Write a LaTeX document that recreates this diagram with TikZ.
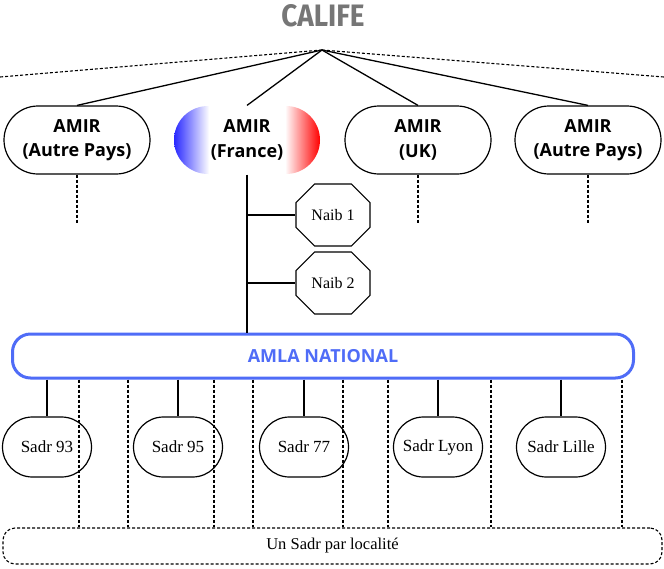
\documentclass[tikz,border=0pt]{standalone}
\usepackage{fontspec}
\setmainfont{Liberation Serif}
\newfontfamily\opensans{Open Sans}
\newfontfamily\califefont[FakeStretch=0.9]{Fira Sans}
\usetikzlibrary{shapes.misc,shapes.geometric}
\definecolor{amlablue}{RGB}{79,108,247}
\definecolor{califegray}{RGB}{118,118,118}
\definecolor{frblue}{RGB}{40,40,255}
\definecolor{frred}{RGB}{255,0,0}
\pgfdeclarehorizontalshading{france}{100bp}{color(0bp)=(frblue); color(25bp)=(frblue);
  color(37bp)=(white); color(63bp)=(white); color(75bp)=(frred); color(100bp)=(frred)}
\tikzstyle{edge} = [draw,line width=1.3pt,-]
\tikzstyle{dline} = [draw,line width=1.1pt,dash pattern=on 3pt off 2pt]

\begin{document}
\begin{tikzpicture}[x=1pt,y=-1pt,
  amir/.style={draw,line width=1.2pt,rounded rectangle,minimum width=146pt,
    minimum height=68pt,inner sep=0pt,align=center,
    font=\opensans\bfseries\fontsize{18}{24.5}\selectfont},
  naib/.style={draw,line width=1.2pt,chamfered rectangle,chamfered rectangle xsep=13pt,
    chamfered rectangle ysep=13pt,minimum width=74pt,minimum height=62pt,inner sep=0pt,
    font=\fontsize{16}{18}\selectfont},
  sadr/.style={draw,line width=1.2pt,rounded rectangle,minimum width=89pt,
    minimum height=60pt,inner sep=0pt,font=\fontsize{17}{18}\selectfont}]
  \useasboundingbox (0,0) rectangle (664,568);

  % top
  \node[font=\califefont\bfseries\fontsize{31}{32}\selectfont,text=califegray] (c) at (323,16) {CALIFE};
  \coordinate (top) at (322,50);
  \coordinate (dl) at (0,77);
  \coordinate (dr) at (664,77);

  \node[amir] (a1) at (77,140) {AMIR\\(Autre Pays)};
  \node[amir,draw=none,shading=france] (a2) at (247,140) {AMIR\\(France)};
  \node[amir] (a3) at (418,140) {AMIR\\(UK)};
  \node[amir] (a4) at (588,140) {AMIR\\(Autre Pays)};

  \path[dline] (top) -- (dl);
  \path[dline] (top) -- (dr);
  \foreach \n in {a1,a2,a3,a4}
    \path[edge] (top) -- (\n.north);

  \coordinate (e1) at (77,223);
  \coordinate (e3) at (418,223);
  \coordinate (e4) at (588,223);
  \path[dline] (a1.south) -- (e1);
  \path[dline] (a3.south) -- (e3);
  \path[dline] (a4.south) -- (e4);

  % naibs
  \node[naib] (n1) at (333,215) {Naib 1};
  \node[naib] (n2) at (333,283) {Naib 2};

  \node[draw=amlablue,line width=3pt,rounded corners=18pt,minimum width=621pt,
    minimum height=44pt,text=amlablue,font=\opensans\bfseries\fontsize{18}{18}\selectfont]
    (amla) at (323,356) {AMLA NATIONAL};

  \path[edge] (a2.south) -- (a2.south |- amla.north);
  \path[edge] (a2.south |- n1.west) -- (n1.west);
  \path[edge] (a2.south |- n2.west) -- (n2.west);

  % sadrs
  \node[sadr] (s1) at (47,447) {Sadr 93};
  \node[sadr] (s2) at (178,447) {Sadr 95};
  \node[sadr] (s3) at (304,447) {Sadr 77};
  \node[sadr] (s4) at (438,447) {Sadr Lyon};
  \node[sadr] (s5) at (561,447) {Sadr Lille};
  \foreach \n in {s1,s2,s3,s4,s5}
    \path[edge] (\n.north |- amla.south) -- (\n.north);

  \node[dline,rounded corners=12pt,minimum width=659pt,minimum height=36pt,
    font=\fontsize{16.5}{18}\selectfont] (loc) at (332.5,546) {Un Sadr par localit\'e};
  \foreach \x in {79,128,214,253,343,388,491,622}
    \path[dline] (\x,0 |- amla.south) -- (\x,0 |- loc.north);

\end{tikzpicture}
\end{document}
